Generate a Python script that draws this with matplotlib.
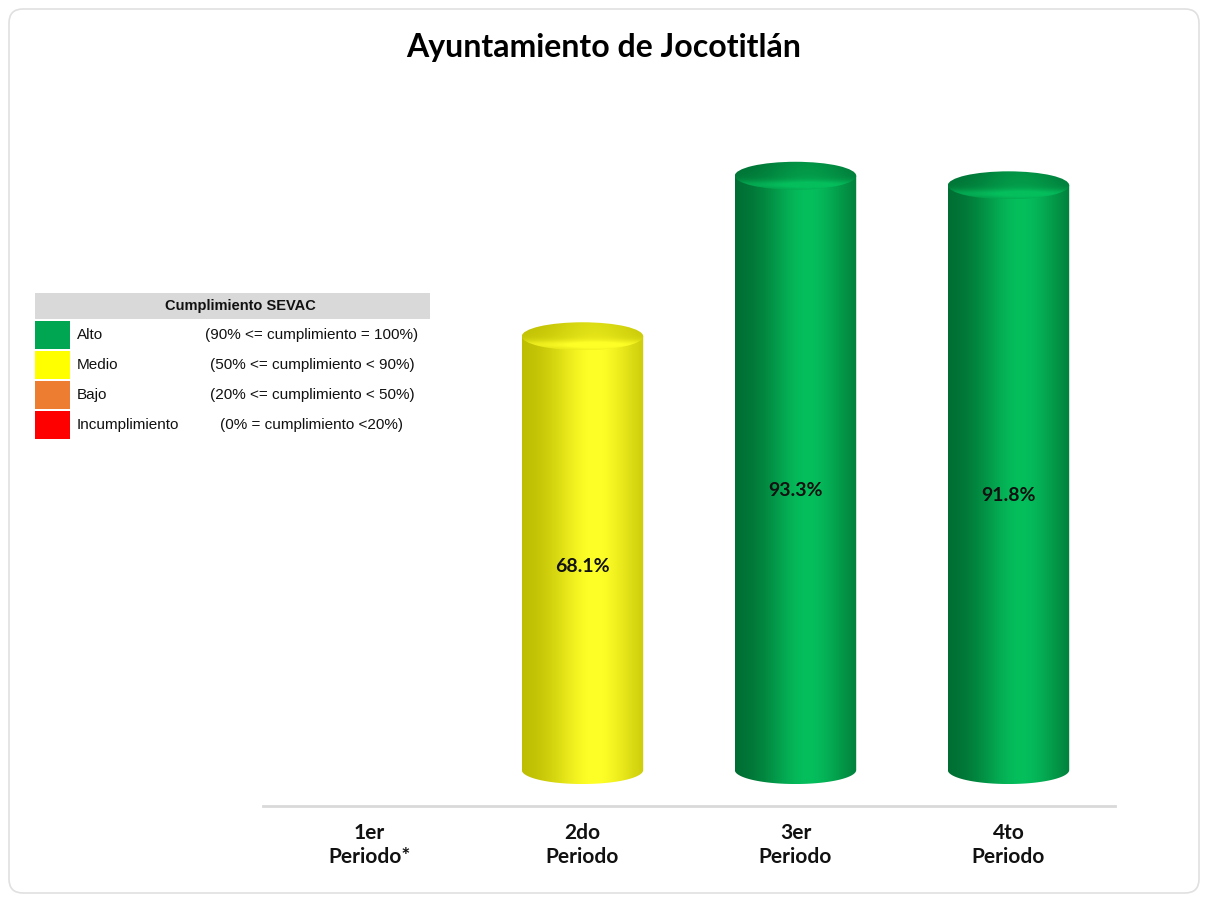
import numpy as np
import matplotlib
matplotlib.use("Agg")
import matplotlib.pyplot as plt
from matplotlib.path import Path
from matplotlib.patches import PathPatch, Ellipse, Rectangle, FancyBboxPatch

title = "Ayuntamiento de Jocotitlán"
categories = ["1er\nPeriodo*", "2do\nPeriodo", "3er\nPeriodo", "4to\nPeriodo"]
values = [np.nan, 68.1, 93.3, 91.8]

legend_title = "Cumplimiento SEVAC"
levels = ["Alto", "Medio", "Bajo", "Incumplimiento"]
ranges = ["(90% <= cumplimiento = 100%)", "(50% <= cumplimiento < 90%)",
          "(20% <= cumplimiento < 50%)", "(0% = cumplimiento <20%)"]
level_colors = ["#00A651", "#FFFF00", "#ED7D31", "#FF0000"]
thresholds = [90, 50, 20, 0]

# dark edge / highlight tones for the cylinder shading
shades = {
    "#00A651": ((0, 105, 48), (5, 190, 92)),
    "#FFFF00": ((185, 185, 0), (255, 255, 40)),
    "#ED7D31": ((170, 80, 20), (250, 150, 80)),
    "#FF0000": ((160, 0, 0), (255, 60, 60)),
}


def level_color(v):
    for t, c in zip(thresholds, level_colors):
        if v >= t:
            return c
    return level_colors[-1]


def cylinder(ax, x, v, w, eh, color):
    dark, light = [np.array(c) / 255 for c in shades[color]]
    t = np.linspace(0, 1, 200)
    k = np.exp(-((t - 0.6) / 0.36) ** 2)
    row = dark + (light - dark) * k[:, None]
    im = ax.imshow(row[None, :, :], extent=[x - w / 2, x + w / 2, -eh, v],
                   aspect="auto", interpolation="bilinear", zorder=2)
    th = np.linspace(np.pi, 2 * np.pi, 60)
    pts = [(x - w / 2, v), (x - w / 2, 0)]
    pts += [(x + w / 2 * np.cos(a), eh * np.sin(a)) for a in th]
    pts += [(x + w / 2, v), (x - w / 2, v)]
    codes = [Path.MOVETO] + [Path.LINETO] * (len(pts) - 2) + [Path.CLOSEPOLY]
    body = PathPatch(Path(pts, codes), facecolor="none", edgecolor="none",
                     transform=ax.transData)
    ax.add_patch(body)
    im.set_clip_path(body)

    # top cap
    s = np.linspace(0, 1, 60)
    rim = np.exp(-((s - 0.82) / 0.16) ** 2)
    kk = np.clip(0.45 * k[None, :] + 0.25 + 0.45 * rim[:, None] - 0.2 * (1 - s[:, None]), 0, 1)
    cap_img = dark + (light - dark) * kk[:, :, None]
    im2 = ax.imshow(cap_img, extent=[x - w / 2, x + w / 2, v - eh, v + eh],
                    aspect="auto", interpolation="bilinear", origin="upper", zorder=3)
    cap = Ellipse((x, v), w, 2 * eh, facecolor="none", edgecolor="none",
                  transform=ax.transData)
    ax.add_patch(cap)
    im2.set_clip_path(cap)


fig = plt.figure(figsize=(12.07, 9.02), dpi=100)
fig.patch.set_facecolor("white")

# background frame + legend drawn in pixel coordinates
bg = fig.add_axes([0, 0, 1, 1])
bg.set_xlim(0, 1207)
bg.set_ylim(902, 0)
bg.axis("off")
bg.add_patch(FancyBboxPatch((9, 9), 1190, 884, boxstyle="round,pad=0,rounding_size=14",
                            facecolor="white", edgecolor="#E0E0E0", linewidth=1.2))

bg.add_patch(Rectangle((35, 293), 395, 26, facecolor="#D9D9D9", edgecolor="none"))
bg.text(240, 306, legend_title, ha="center", va="center", fontsize=10.5,
        fontweight="bold", family="Liberation Sans", color="#111111")
for i, (lv, rg, c) in enumerate(zip(levels, ranges, level_colors)):
    y0 = 321 + i * 30
    bg.add_patch(Rectangle((35, y0), 35, 28, facecolor=c, edgecolor="none"))
    bg.text(77, y0 + 14, lv, ha="left", va="center", fontsize=11,
            family="Liberation Sans", color="#111111")
    bg.text(312, y0 + 14, rg, ha="center", va="center", fontsize=11,
            family="Liberation Sans", color="#111111")

fig.text(0.5, 1 - 48 / 902, title, ha="center", va="center", fontsize=23,
         fontweight="bold", family="Lato", color="black")

ax = fig.add_axes([263 / 1207, 1 - 806 / 902, 852 / 1207, 706 / 902])
ax.patch.set_alpha(0)
w = 0.57
eh = 2.2
for i, v in enumerate(values):
    if np.isnan(v):
        continue
    cylinder(ax, i, v, w, eh, level_color(v))
    ax.text(i, v * 0.47, f"{v:.1f}%", ha="center", va="center", fontsize=14,
            fontweight="bold", family="Lato", color="#111111", zorder=5)

ax.set_xlim(-0.5, len(categories) - 0.5)
ax.set_ylim(-5.65, 105.2)
for sp in ["top", "left", "right"]:
    ax.spines[sp].set_visible(False)
ax.spines["bottom"].set_color("#D9D9D9")
ax.spines["bottom"].set_linewidth(2)
ax.set_yticks([])
ax.set_xticks(range(len(categories)))
ax.set_xticklabels(categories, fontsize=15, fontweight="bold", family="Lato",
                   color="#111111", linespacing=1.3)
ax.tick_params(axis="x", length=0, pad=12)

fig.savefig("out.png", dpi=100, facecolor="white")
